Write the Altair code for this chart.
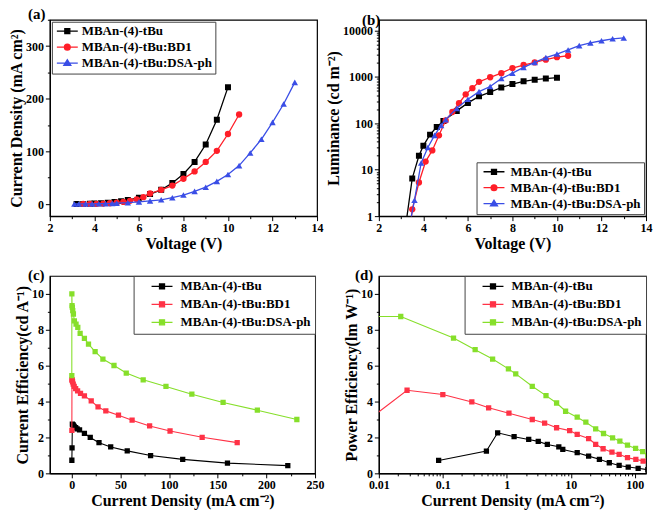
import altair as alt
import pandas as pd

FONT = "Liberation Serif"

names = ["MBAn-(4)-tBu", "MBAn-(4)-tBu:BD1", "MBAn-(4)-tBu:DSA-ph"]

# ---------------- (a) J-V ----------------
a_v_black = [3.2, 3.5, 3.8, 4.0, 4.3, 4.6, 4.9, 5.2, 5.5, 6.0, 6.5, 7.0, 7.5, 8.0, 8.5, 9.0, 9.5, 10.0]
a_j_black = [0.1, 0.3, 0.6, 1.0, 1.5, 2.5, 4.0, 5.5, 7.5, 12, 19, 27, 40, 57, 80, 113, 160, 222]
a_v_red = [3.5, 3.8, 4.1, 4.4, 4.7, 5.0, 5.3, 5.6, 5.9, 6.2, 6.5, 7.0, 7.5, 8.0, 8.5, 9.0, 9.5, 10.0, 10.5]
a_j_red = [0.1, 0.2, 0.4, 0.8, 1.5, 2.5, 4, 6, 9, 13, 20, 27, 35, 48, 62, 80, 101, 133, 170]
a_v_blue = [3.1, 3.3, 3.6, 3.9, 4.2, 4.5, 4.8, 5.0, 5.5, 6.0, 6.5, 7.0, 7.5, 8.0, 8.5, 9.0, 9.5,
            10.0, 10.5, 11.0, 11.5, 12.0, 12.5, 13.0]
a_j_blue = [0.05, 0.1, 0.2, 0.3, 0.5, 0.8, 1.2, 1.6, 2.5, 4, 6, 8, 12, 17, 24, 32, 43,
            56, 73, 97, 123, 155, 190, 231]

# ---------------- (b) L-V ----------------
b_v_black = [3.2, 3.5, 3.8, 4.0, 4.3, 4.6, 4.9, 5.5, 6.0, 6.5, 7.0, 7.5, 8.0, 8.5, 9.0, 9.5, 10.0]
b_l_black = [0.6, 6.5, 20, 33, 57, 83, 112, 185, 275, 380, 470, 590, 700, 800, 870, 920, 960]
b_v_red = [3.4, 3.5, 3.8, 4.1, 4.4, 4.7, 5.0, 5.3, 5.6, 5.9, 6.2, 6.5, 7.0, 7.5, 8.0, 8.5, 9.0, 9.5, 10.0, 10.5]
b_l_red = [0.5, 1.4, 5.3, 15, 26, 55, 115, 175, 270, 420, 570, 780, 980, 1200, 1550, 1800, 2050, 2350, 2650, 2850]
b_v_blue = [3.3, 3.6, 3.9, 4.2, 4.5, 4.8, 5.0, 5.5, 6.0, 6.5, 7.0, 7.5, 8.0, 8.5, 9.0, 9.5,
            10.0, 10.5, 11.0, 11.5, 12.0, 12.5, 13.0]
b_l_blue = [0.4, 2.2, 14, 30, 55, 90, 120, 210, 330, 480, 620, 920, 1200, 1600, 2050, 2600,
            3100, 3800, 4700, 5400, 6000, 6600, 6900]

# ---------------- (c) CE-J ----------------
c_j_black = [0.1, 0.3, 0.6, 1.0, 1.5, 2.5, 4, 5.5, 8, 13, 19, 28, 40, 57, 81, 114, 160, 222]
c_ce_black = [0.73, 1.42, 2.74, 2.72, 2.68, 2.62, 2.55, 2.48, 2.42, 2.23, 2.0, 1.71, 1.47, 1.25,
              0.99, 0.78, 0.57, 0.43]
c_j_red = [0.1, 0.2, 0.4, 0.8, 1.5, 2.5, 4, 6, 9, 13, 20, 27, 35, 48, 62, 80, 101, 134, 170]
c_ce_red = [2.4, 5.22, 5.18, 5.1, 4.97, 4.85, 4.72, 4.6, 4.45, 4.32, 4.04, 3.7, 3.48, 3.24, 2.96,
            2.64, 2.36, 2.01, 1.71]
c_j_green = [0.05, 0.1, 0.3, 0.6, 1.0, 1.7, 2.7, 4.4, 6.2, 8.6, 13, 17.2, 24, 32, 43.4, 56, 73.4,
             96.8, 123.4, 155.5, 190.7, 231.3]
c_ce_green = [5.44, 10.0, 9.35, 9.25, 9.07, 8.88, 8.5, 8.32, 8.13, 7.8, 7.52, 7.2, 6.78, 6.37, 6.01,
              5.59, 5.21, 4.84, 4.41, 3.95, 3.52, 3.0]

# ---------------- (d) PE-J ----------------
d_j_black = [0.086, 0.48, 0.72, 1.3, 2.2, 3.1, 4.3, 6.5, 7.5, 12.6, 19, 28, 40, 57, 79, 113, 160]
d_pe_black = [0.72, 1.24, 2.26, 2.04, 1.89, 1.78, 1.61, 1.48, 1.33, 1.15, 0.96, 0.78, 0.59, 0.44,
              0.35, 0.28, 0.2]
d_j_red = [0.005, 0.0276, 0.1, 0.284, 0.52, 1.08, 2.5, 3.9, 6.0, 9.6, 12.6, 19, 24.5, 32, 44, 57,
           77, 104, 135, 170]
d_pe_red = [2.6, 4.63, 4.39, 3.98, 3.65, 3.35, 3.0, 2.8, 2.54, 2.38, 2.17, 1.94, 1.62, 1.37, 1.18,
            1.06, 0.87, 0.78, 0.68, 0.55]
d_j_green = [0.006, 0.022, 0.147, 0.32, 0.6, 1.06, 1.38, 2.5, 4.1, 6.0, 8.3, 12.6, 17.2, 24.5, 32.5,
             45, 58.5, 77, 103, 133, 160]
d_pe_green = [8.74, 8.74, 7.54, 6.89, 6.37, 5.82, 5.54, 4.85, 4.33, 3.92, 3.46, 3.13, 2.85, 2.48,
              2.22, 1.98, 1.79, 1.57, 1.39, 1.21, 1.0]

BLACK = "#000000"
RED = "#ff1e28"
BLUE = "#3a4ee6"
RED2 = "#ff3246"
GREEN = "#86df2a"

SQ = "M-2.1,0H2.1M-0.5,-0.5H0.5V0.5H-0.5Z"
CI = "M-2.1,0H2.1M-0.58,0A0.58,0.58,0,1,0,0.58,0A0.58,0.58,0,1,0,-0.58,0Z"
TR = "M-2.1,0H2.1M-0.7,0.45L0,-0.68L0.7,0.45Z"


def lin_axis(title, values, major_test, **kw):
    return alt.Axis(
        title=title, values=values,
        labelExpr=f"({major_test}) ? datum.label : ''",
        tickSize={"condition": {"test": f"!({major_test})", "value": 2.5}, "value": 4.5},
        **kw,
    )


LOGMAJ = "abs(log(datum.value)/LN10 - round(log(datum.value)/LN10)) < 0.001"


def panel(series, xscale, yscale, xaxis, yaxis, legend, title, title_dx, w, h,
          colors, shapes, sizes, paths, lw):
    layers = []
    for (xs, ys), col, shp, sz in zip(series, colors, shapes, sizes):
        df = pd.DataFrame({"x": xs, "y": ys})
        enc = dict(x=alt.X("x:Q", scale=xscale, axis=xaxis),
                   y=alt.Y("y:Q", scale=yscale, axis=yaxis))
        base = alt.Chart(df)
        layers.append(base.mark_line(color=col, strokeWidth=lw, clip=True).encode(**enc))
        layers.append(base.mark_point(shape=shp, filled=True, color=col, size=sz,
                                      opacity=1, clip=True).encode(**enc))
    ldf = pd.DataFrame({"series": names})
    leg = alt.Legend(**legend)
    layers.append(
        alt.Chart(ldf).transform_filter("false").mark_point(filled=True, strokeWidth=1.3, opacity=1)
        .encode(
            x=alt.X("x:Q", scale=xscale, axis=xaxis),
            fill=alt.Fill("series:N", scale=alt.Scale(domain=names, range=colors), legend=leg),
            stroke=alt.Stroke("series:N", scale=alt.Scale(domain=names, range=colors), legend=leg),
            shape=alt.Shape("series:N", scale=alt.Scale(domain=names, range=paths), legend=leg),
        )
    )
    return alt.layer(*layers).properties(
        width=w, height=h,
        title=alt.TitleParams(title, anchor="start", frame="group", dx=title_dx, offset=-8,
                              font=FONT, fontWeight="bold", fontSize=15, color="black"),
    )


def legend_opts(orient, offset, sym_off, lab_off, row_pad, pad):
    return dict(title=None, orient=orient, offset=offset, strokeColor="#444444",
                fillColor="white", padding=pad, labelFont=FONT, labelFontWeight="bold",
                labelFontSize=13, labelColor="black", symbolSize=100, symbolStrokeWidth=1.3,
                symbolOffset=sym_off, labelOffset=lab_off, rowPadding=row_pad)


# axes
ax_volt = lin_axis("Voltage (V)", list(range(2, 15)), "datum.value % 2 == 0")
ax_a_y = lin_axis("Current Density (mA cm²)", list(range(0, 351, 50)), "datum.value % 100 == 0")
b_y_vals = [m * 10 ** e for e in range(0, 4) for m in range(1, 10)] + [10000]
ax_b_y = alt.Axis(title="Luminance (cd m⁻²)", values=b_y_vals,
                  labelExpr=f"({LOGMAJ}) ? format(datum.value, 'd') : ''",
                  tickSize={"condition": {"test": f"!({LOGMAJ})", "value": 2.5}, "value": 4.5})
ax_c_x = lin_axis("Current Density (mA cm⁻²)", list(range(0, 251, 25)), "datum.value % 50 == 0")
ax_c_y = lin_axis("Current Efficiency(cd A⁻¹)", list(range(0, 11)), "datum.value % 2 == 0")
d_x_vals = [round(m * 10.0 ** e, 4) for e in range(-2, 2) for m in range(1, 10)] + [100]
ax_d_x = alt.Axis(title="Current Density (mA cm⁻²)", values=d_x_vals,
                  labelExpr=f"({LOGMAJ}) ? format(datum.value, '~g') : ''",
                  tickSize={"condition": {"test": f"!({LOGMAJ})", "value": 2.5}, "value": 4.5})
ax_d_y = lin_axis("Power Efficiency(lm W⁻¹)", list(range(0, 11)), "datum.value % 2 == 0")

pa = panel(
    [(a_v_black, a_j_black), (a_v_red, a_j_red), (a_v_blue, a_j_blue)],
    alt.Scale(domain=[2, 14], nice=False, zero=False),
    alt.Scale(domain=[-23, 350], nice=False, zero=False),
    ax_volt, ax_a_y,
    legend_opts("top-left", 2, 6, 8, 2, 3),
    "(a)", -22, 268, 197,
    [BLACK, RED, BLUE], ["square", "circle", "triangle-up"], [36, 40, 42], [SQ, CI, TR], 1.3)

pb = panel(
    [(b_v_black, b_l_black), (b_v_red, b_l_red), (b_v_blue, b_l_blue)],
    alt.Scale(domain=[2, 14], nice=False, zero=False),
    alt.Scale(type="log", domain=[1, 17000], nice=False),
    ax_volt, ax_b_y,
    legend_opts("bottom-right", 2, 8, 10, 2, 3),
    "(b)", -17, 268, 197,
    [BLACK, RED, BLUE], ["square", "circle", "triangle-up"], [36, 40, 42], [SQ, CI, TR], 1.3)

pc = panel(
    [(c_j_black, c_ce_black), (c_j_red, c_ce_red), (c_j_green, c_ce_green)],
    alt.Scale(domain=[-22.5, 250], nice=False, zero=False),
    alt.Scale(domain=[0, 11], nice=False),
    ax_c_x, ax_c_y,
    legend_opts("top-right", 0, 18, 12, 4, 4),
    "(c)", -22, 266, 198,
    [BLACK, RED2, GREEN], ["square", "square", "square"], [28, 28, 28], [SQ, SQ, SQ], 1.1)

pd_ = panel(
    [(d_j_black, d_pe_black), (d_j_red, d_pe_red), (d_j_green, d_pe_green)],
    alt.Scale(type="log", domain=[0.01, 150], nice=False),
    alt.Scale(domain=[0, 11], nice=False),
    ax_d_x, ax_d_y,
    legend_opts("top-right", 0, 18, 12, 4, 4),
    "(d)", -24, 268, 198,
    [BLACK, RED2, GREEN], ["square", "square", "square"], [28, 28, 28], [SQ, SQ, SQ], 1.1)

chart = alt.concat(
    pa, pb, pc, pd_, columns=2, spacing={"row": 60, "column": 62}, bounds="flush"
).resolve_scale(
    fill="independent", stroke="independent", shape="independent", x="independent", y="independent"
).resolve_legend(
    fill="independent", stroke="independent", shape="independent"
).properties(
    padding={"left": -1, "top": -3, "right": 0, "bottom": 0}
).configure_view(
    stroke="black", strokeWidth=1.2
).configure_axis(
    labelFont=FONT, labelFontWeight="bold", labelFontSize=12, labelColor="black",
    titleFont=FONT, titleFontWeight="bold", titleFontSize=16, titleColor="black",
    grid=False, tickColor="black", domainColor="black", domainWidth=1.2, tickWidth=1,
    labelPadding=2, labelFlush=False, labelOverlap=False,
).configure_axisX(
    titlePadding=2
).configure_axisY(
    titlePadding=1
)

chart.save("out.html", embed_options={"renderer": "svg", "actions": False})
